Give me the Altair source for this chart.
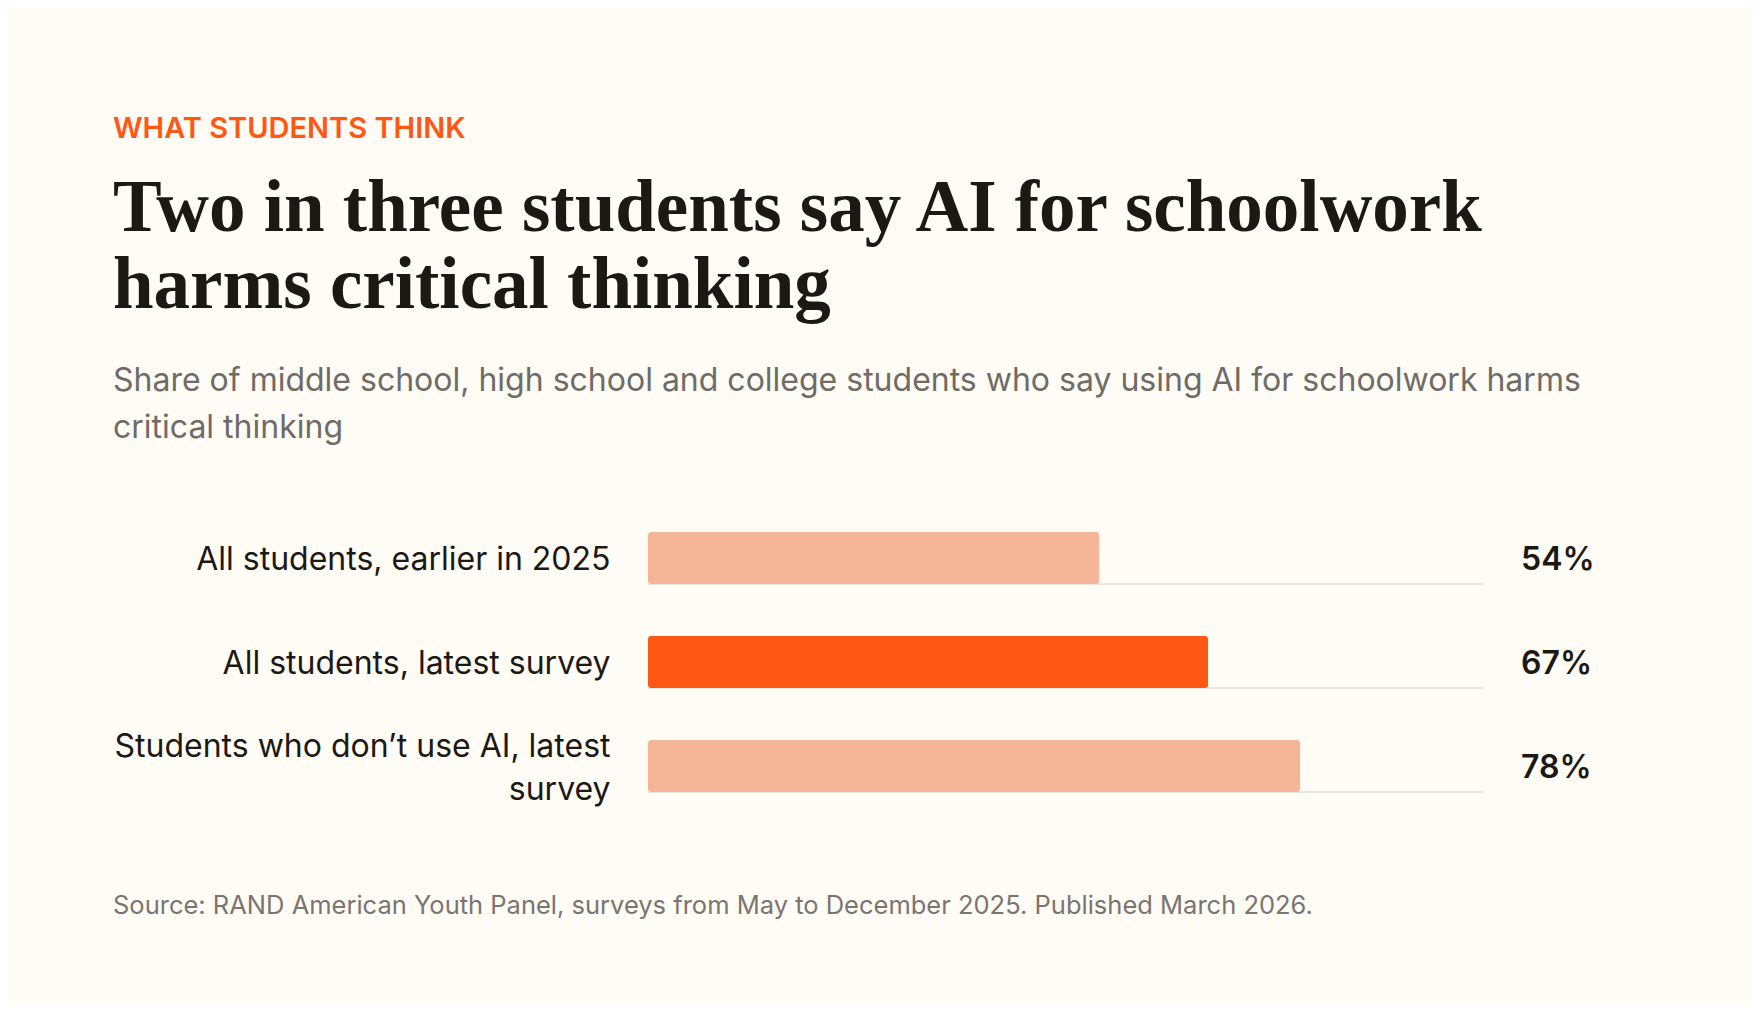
import pandas as pd
import altair as alt

# survey results
groups = ["All students, earlier in 2025",
          "All students, latest survey",
          "Students who don\u2019t use AI, latest survey"]
shares = [54, 67, 78]
emphasis = ["muted", "accent", "muted"]

kicker = "WHAT STUDENTS THINK"
headline = ["Two in three students say AI for schoolwork",
            "harms critical thinking"]
subhead = ["Share of middle school, high school and college students who say using AI for schoolwork harms",
           "critical thinking"]
source = "Source: RAND American Youth Panel, surveys from May to December 2025. Published March 2026."

df = pd.DataFrame({'group': groups, 'share': shares, 'emphasis': emphasis})

BG = '#fffbf5'
INK = '#1c1915'
W, H = 836, 312

# wrap long category names onto two lines
long_label = "length(datum.label) > 34"
wrap = (long_label + " ? "
        "[slice(datum.label, 0, lastindexof(slice(datum.label, 0, 34), ' ')), "
        "slice(datum.label, lastindexof(slice(datum.label, 0, 34), ' ') + 1)] : datum.label")

y = alt.Y('group:N', sort=groups, title=None,
          scale=alt.Scale(paddingInner=0.5, paddingOuter=0.25),
          axis=alt.Axis(domain=False, ticks=False, tickSize=0, grid=False,
                        labelPadding=38, labelLimit=800, labelFont='Inter',
                        labelFontSize=32, labelColor=INK, labelLineHeight=43,
                        labelOffset={'condition': {'test': long_label, 'value': -19}, 'value': 2},
                        labelExpr=wrap))
x = alt.X('share:Q', scale=alt.Scale(domain=[0, 100]), axis=None)

track = alt.Chart(df).transform_calculate(lo="0", hi="100").mark_rule(
    color='#ebe8e2', strokeWidth=2, yOffset=26).encode(
    x=alt.X('lo:Q', scale=alt.Scale(domain=[0, 100]), axis=None), x2='hi:Q', y=y)

bars = alt.Chart(df).mark_bar(cornerRadius=3).encode(
    x=x, y=y,
    color=alt.Color('emphasis:N', legend=None,
                    scale=alt.Scale(domain=['muted', 'accent'], range=['#f5b597', '#ff5714'])))

values = alt.Chart(df).transform_calculate(lbl="datum.share + '%'").mark_text(
    align='left', baseline='middle', font='Inter', fontSize=32, fontWeight=600,
    color=INK, yOffset=2).encode(x=alt.value(873), y=y, text='lbl:N')


def note(lines, px, py, **style):
    d = pd.DataFrame({'t': ["\n".join(lines)]})
    return alt.Chart(d).mark_text(align='left', baseline='alphabetic', lineBreak="\n", **style).encode(
        x=alt.value(px), y=alt.value(py), text='t:N')


kick = note([kicker], -535, -368, font='Inter', fontSize=29, fontWeight=600, color='#ff5714')
head = note(headline, -535, -275, font='Liberation Serif', fontSize=73, fontWeight='bold',
            color=INK, lineHeight=77)
sub = note(subhead, -535, -115, font='Inter', fontSize=32, color='#6f6b66', lineHeight=47)
foot = note([source], -535, 408, font='Inter', fontSize=25.5, color='#7a7570')

chart = (track + bars + values + kick + head + sub + foot).properties(
    width=W, height=H, autosize='none',
    padding={'left': 640, 'top': 498, 'right': 268, 'bottom': 188},
    background=BG
).configure_view(stroke=None)

chart.save("out.html", embed_options={"renderer": "svg", "actions": False})
